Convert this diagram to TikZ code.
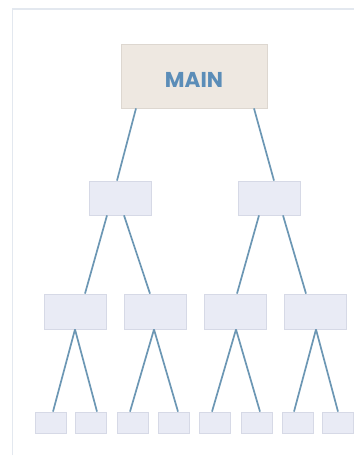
\documentclass[tikz,border=0pt]{standalone}
\usepackage{fontspec}
\newfontfamily\mainfont{Poppins}
\usetikzlibrary{calc}
\definecolor{framec}{HTML}{E3E8EF}
\definecolor{mainfill}{HTML}{EEE8E1}
\definecolor{maindraw}{HTML}{DDD7D0}
\definecolor{boxfill}{HTML}{E9EBF5}
\definecolor{boxdraw}{HTML}{D6D9E6}
\definecolor{linkc}{HTML}{6C97B4}
\definecolor{textc}{HTML}{5B8DB8}
\tikzset{
  x=1pt, y=-1pt,
  mainbox/.style={draw=maindraw, fill=mainfill, line width=0.8pt, minimum width=146pt, minimum height=64pt, inner sep=0pt},
  lvtwo/.style={draw=boxdraw, fill=boxfill, line width=0.8pt, minimum width=62pt, minimum height=34pt, inner sep=0pt},
  lvthree/.style={draw=boxdraw, fill=boxfill, line width=0.8pt, minimum width=62pt, minimum height=35pt, inner sep=0pt},
  lvfour/.style={draw=boxdraw, fill=boxfill, line width=0.8pt, minimum width=31pt, minimum height=21pt, inner sep=0pt},
  link/.style={draw=linkc, line width=1.7pt},
  framel/.style={draw=framec, line width=1.5pt}
}
\begin{document}
\begin{tikzpicture}
\useasboundingbox (0,0) rectangle (354,456);
\fill[white] (0,0) rectangle (354,456);
\coordinate (fa) at (12.5,455);
\coordinate (fb) at (12.5,9);
\coordinate (fc) at (354,9);
\draw[framel] (fa) -- (fb) -- (fc);

\node[mainbox] (m) at (194,76) {\raisebox{-11pt}[0pt][0pt]{\mainfont\bfseries\fontsize{21.5}{22}\selectfont\color{textc}MAIN}};

\node[lvtwo] (a) at (120,198) {};
\node[lvtwo] (b) at (269.5,198) {};

\node[lvthree] (c1) at (75,311.5) {};
\node[lvthree] (c2) at (155,311.5) {};
\node[lvthree] (c3) at (235,311.5) {};
\node[lvthree] (c4) at (315,311.5) {};

\foreach \i/\x in {1/50.5,2/91,3/133,4/174,5/215,6/256.5,7/298,8/338}
  \node[lvfour] (d\i) at (\x,422.5) {};

\draw[link] ([xshift=-58pt]m.south) -- ([xshift=-3pt]a.north);
\draw[link] ([xshift=60pt]m.south) -- ([xshift=4.5pt]b.north);

\draw[link] ([xshift=-13pt]a.south) -- ([xshift=10pt]c1.north);
\draw[link] ([xshift=4pt]a.south) -- ([xshift=-5pt]c2.north);
\draw[link] ([xshift=-10.5pt]b.south) -- ([xshift=2pt]c3.north);
\draw[link] ([xshift=13.5pt]b.south) -- ([xshift=-9pt]c4.north);

\draw[link] (c1.south) -- ([xshift=2.5pt]d1.north);
\draw[link] (c1.south) -- ([xshift=6pt]d2.north);
\draw[link] ([xshift=-1pt]c2.south) -- ([xshift=-3pt]d3.north);
\draw[link] ([xshift=-1pt]c2.south) -- ([xshift=4pt]d4.north);
\draw[link] ([xshift=1pt]c3.south) -- ([xshift=-3pt]d5.north);
\draw[link] ([xshift=1pt]c3.south) -- ([xshift=3.5pt]d6.north);
\draw[link] ([xshift=1pt]c4.south) -- ([xshift=-4pt]d7.north);
\draw[link] ([xshift=1pt]c4.south) -- (d8.north);
\end{tikzpicture}
\end{document}
